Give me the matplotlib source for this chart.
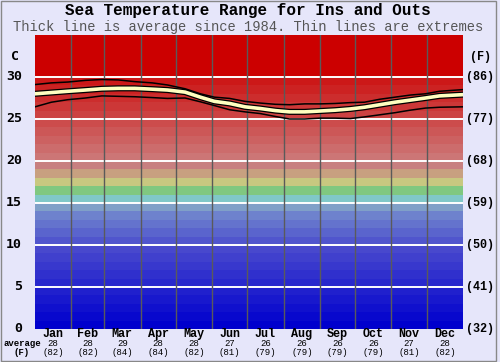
import matplotlib
matplotlib.use("Agg")
import matplotlib.pyplot as plt
import matplotlib.patheffects as pe
from matplotlib.patches import Rectangle
import matplotlib.transforms as mtransforms

# ---------------- data ----------------
months = ["Jan", "Feb", "Mar", "Apr", "May", "Jun", "Jul", "Aug", "Sep", "Oct", "Nov", "Dec"]
month_avg_c = [28, 28, 29, 28, 28, 27, 26, 26, 26, 26, 27, 28]
month_avg_f = [82, 82, 84, 84, 82, 81, 79, 79, 79, 79, 81, 82]
month_edges = [0, 31, 59, 90, 120, 151, 181, 212, 243, 273, 304, 334, 365]

days = [0, 14, 28, 43, 57, 71, 85, 100, 113, 128, 141, 153, 166, 179, 192,
        205, 217, 230, 243, 256, 269, 281, 294, 307, 320, 333, 345, 365]
avg_temp = [28.0, 28.15, 28.3, 28.45, 28.6, 28.65, 28.65, 28.55, 28.45, 28.2, 27.6, 27.1,
            26.85, 26.45, 26.25, 26.0, 25.85, 25.85, 25.95, 26.05, 26.2, 26.4, 26.7, 27.0,
            27.25, 27.5, 27.75, 27.9]
max_temp = [29.1, 29.3, 29.4, 29.6, 29.7, 29.65, 29.45, 29.3, 29.05, 28.6, 28.0, 27.6,
            27.45, 27.1, 26.9, 26.75, 26.7, 26.8, 26.8, 26.85, 26.95, 27.0, 27.35, 27.6,
            27.85, 28.0, 28.3, 28.5]
min_temp = [26.45, 27.0, 27.3, 27.5, 27.75, 27.7, 27.65, 27.55, 27.45, 27.5, 27.05, 26.6,
            26.1, 25.85, 25.65, 25.3, 25.0, 25.0, 25.1, 25.1, 25.05, 25.25, 25.5, 25.75,
            26.05, 26.3, 26.4, 26.45]

c_ticks = [0, 5, 10, 15, 20, 25, 30]
f_ticks = ["(32)", "(41)", "(50)", "(59)", "(68)", "(77)", "(86)"]

# ---------------- style ----------------
W, H = 500, 362
fig = plt.figure(figsize=(W / 100, H / 100), dpi=100)
fig.patch.set_facecolor("#e6e6fa")

def fx(px):
    return px / W

def fy(py):
    return 1 - py / H

ax = fig.add_axes([fx(35), fy(329), fx(463) - fx(35), fy(35) - fy(329)])
ax.set_xlim(0, 365)
ax.set_ylim(0, 35)

# colour bands (one per degree)
def band_color(d):
    if d <= 13:
        if d <= 9:
            r = g = 8 * d
        else:
            r = 80 + (d - 10) * 10
            g = 85 + (d - 10) * 15
        return (r / 255, g / 255, 205 / 255)
    special = {14: (128, 160, 200), 15: (128, 200, 200), 16: (128, 200, 128),
               17: (200, 200, 128), 18: (200, 160, 128), 19: (200, 128, 128)}
    if d in special:
        return tuple(c / 255 for c in special[d])
    if d < 30:
        v = 118 - (d - 20) * 10.5
        return (204 / 255, v / 255, v / 255)
    return (204 / 255, 0, 0)

for d in range(0, 35):
    ax.axhspan(d, d + 1, color=band_color(d), lw=0, zorder=0)

for yv in range(5, 35, 5):
    ax.axhline(yv, color="white", lw=1.4, zorder=1)
for xe in month_edges[1:-1]:
    ax.axvline(xe, color="#5a5a5a", lw=1.0, zorder=1)

ax.plot(days, max_temp, color="black", lw=1.1, zorder=3)
ax.plot(days, min_temp, color="black", lw=1.1, zorder=3)
ax.plot(days, avg_temp, color="#ffffc0", lw=2.6, zorder=4,
        path_effects=[pe.Stroke(linewidth=4.4, foreground="black"), pe.Normal()])

ax.set_xticks([])
ax.set_yticks([])
for s in ax.spines.values():
    s.set_visible(False)

# ---------------- text ----------------
mono = "Liberation Mono"
fig.text(fx(248), fy(11), "Sea Temperature Range for Ins and Outs", ha="center", va="center",
         fontsize=11.5, fontweight="bold", family=mono, color="black")
fig.text(fx(248), fy(27), "Thick line is average since 1984. Thin lines are extremes", ha="center",
         va="center", fontsize=9.9, family=mono, color="#555555")

trans = mtransforms.blended_transform_factory(fig.transFigure, ax.transData)
for c, f in zip(c_ticks, f_ticks):
    ax.text(fx(22), c, str(c), transform=trans, ha="right", va="center",
            fontsize=9.5, fontweight="bold", family="DejaVu Sans Mono")
    ax.text(fx(466), c, f, transform=trans, ha="left", va="center",
            fontsize=8.5, family=mono, fontweight="bold")

fig.text(fx(15), fy(57), "C", ha="center", va="center", fontsize=9.5, fontweight="bold",
         family="DejaVu Sans Mono")
fig.text(fx(480), fy(57), "(F)", ha="center", va="center", fontsize=8.5, fontweight="bold",
         family=mono)

for i, m in enumerate(months):
    xc = (month_edges[i] + month_edges[i + 1]) / 2
    xpix = 35 + xc / 365 * 428
    fig.text(fx(xpix), fy(334), m, ha="center", va="center", fontsize=8.5,
             fontweight="bold", family=mono)
    fig.text(fx(xpix), fy(343), str(month_avg_c[i]), ha="center", va="center",
             fontsize=6.5, family=mono)
    fig.text(fx(xpix), fy(352.5), "(%d)" % month_avg_f[i], ha="center", va="center",
             fontsize=6.5, family=mono)
fig.text(fx(22), fy(343), "average", ha="center", va="center", fontsize=6.5,
         fontweight="bold", family=mono)
fig.text(fx(22), fy(352.5), "(F)", ha="center", va="center", fontsize=6.5,
         fontweight="bold", family=mono)

fig.patches.append(Rectangle((0.001, 0.002), fx(496) - 0.001, 0.995, transform=fig.transFigure,
                             fill=False, edgecolor="#888888", lw=1.0))

fig.savefig("out.png", dpi=100, facecolor=fig.get_facecolor())
